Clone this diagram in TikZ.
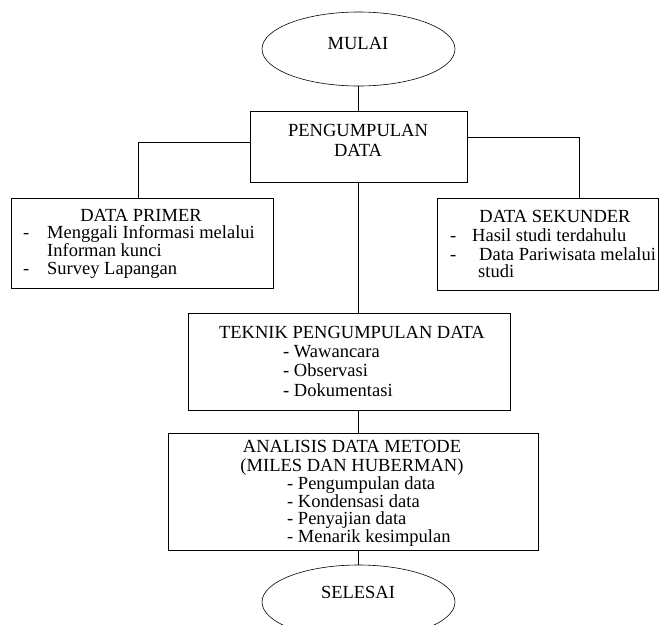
\documentclass[tikz,border=0pt]{standalone}
\usepackage{fontspec}
\setmainfont{Liberation Serif}
\usetikzlibrary{shapes.geometric}

\begin{document}
\begin{tikzpicture}[x=1pt,y=-1pt,
  box/.style={draw,rectangle,line width=0.6pt,inner sep=0pt},
  oval/.style={draw,ellipse,line width=0.6pt,inner sep=0pt,minimum width=193pt,minimum height=74pt},
  txt/.style={inner sep=0pt,anchor=base,font=\fontsize{18.5}{19}\selectfont},
  item/.style={txt,anchor=base west}]
\useasboundingbox (0,0) rectangle (661,624);

\node[oval] (mulai) at (358.5,49) {};
\node[box,minimum width=217pt,minimum height=71pt] (kumpul) at (358.5,146.5) {};
\node[box,minimum width=262pt,minimum height=90pt] (primer) at (142,243) {};
\node[box,minimum width=221pt,minimum height=92pt] (sekunder) at (547.5,244) {};
\node[box,minimum width=322pt,minimum height=97pt] (teknik) at (349,361.5) {};
\node[box,minimum width=370pt,minimum height=117pt] (analisis) at (353,491.5) {};
\node[oval] (selesai) at (358.5,602) {};

\node[txt] (tmulai) at (358,49) {MULAI};
\node[txt] (tkumpul1) at (358,136) {PENGUMPULAN};
\node[txt] (tkumpul2) at (358,156) {DATA};

\node[txt] (tprimer) at (141,221) {DATA PRIMER};
\node[item] (dp1) at (23,238) {-};
\node[item] (p1) at (47,238) {Menggali Informasi melalui};
\node[item] (p2) at (47,256) {Informan kunci};
\node[item] (dp3) at (23,274) {-};
\node[item] (p3) at (47,274) {Survey Lapangan};

\node[txt] (tsekunder) at (555,222) {DATA SEKUNDER};
\node[item] (ds1) at (450,241) {-};
\node[item] (s1) at (472,241) {Hasil studi terdahulu};
\node[item] (ds2) at (450,260) {-};
\node[item] (s2) at (479,260) {Data Pariwisata melalui};
\node[item] (s3) at (478,277) {studi};

\node[txt] (tteknik) at (352,338) {TEKNIK PENGUMPULAN DATA};
\node[item] (t1) at (283,357) {- Wawancara};
\node[item] (t2) at (283,376) {- Observasi};
\node[item] (t3) at (283,396) {- Dokumentasi};

\node[txt] (tanalisis1) at (352,452) {ANALISIS DATA METODE};
\node[txt] (tanalisis2) at (352,471) {(MILES DAN HUBERMAN)};
\node[item] (a1) at (287,489) {- Pengumpulan data};
\node[item] (a2) at (287,507) {- Kondensasi data};
\node[item] (a3) at (287,524) {- Penyajian data};
\node[item] (a4) at (287,542) {- Menarik kesimpulan};

\node[txt] (tselesai) at (358,598) {SELESAI};

\draw[line width=0.6pt] (mulai.south) -- (kumpul.north);
\draw[line width=0.6pt] ([yshift=4.5pt]kumpul.west) -| ([xshift=-4pt]primer.north);
\draw[line width=0.6pt] ([yshift=9.5pt]kumpul.east) -| ([xshift=31.5pt]sekunder.north);
\draw[line width=0.6pt] (kumpul.south) -- (kumpul.south |- teknik.north);
\draw[line width=0.6pt] (kumpul.south |- teknik.south) -- (kumpul.south |- analisis.north);
\draw[line width=0.6pt] (selesai.north |- analisis.south) -- (selesai.north);
\end{tikzpicture}
\end{document}
